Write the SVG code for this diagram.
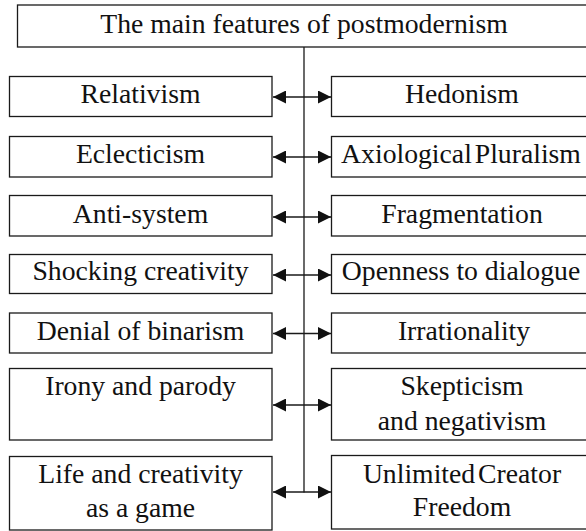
<svg xmlns="http://www.w3.org/2000/svg" width="586" height="531" viewBox="0 0 586 531">
<defs>
  <marker id="ah" markerUnits="userSpaceOnUse" markerWidth="13" markerHeight="13" viewBox="0 0 12 12" refX="12" refY="6" orient="auto-start-reverse">
    <path d="M0,0 L12,6 L0,12 Z" fill="#111"/>
  </marker>
</defs>
<rect width="586" height="531" fill="#fff"/>

<g id="connectors" stroke="#1a1a1a" stroke-width="1.3" fill="none">
  <line x1="304" y1="47" x2="304" y2="492.5"/>
  <g marker-start="url(#ah)" marker-end="url(#ah)">
    <line x1="273" y1="97" x2="331" y2="97"/>
    <line x1="273" y1="157" x2="331" y2="157"/>
    <line x1="273" y1="217" x2="331" y2="217"/>
    <line x1="273" y1="275" x2="331" y2="275"/>
    <line x1="273" y1="333.5" x2="331" y2="333.5"/>
    <line x1="273" y1="405" x2="331" y2="405"/>
    <line x1="273" y1="492" x2="331" y2="492"/>
  </g>
</g>

<g id="boxes" fill="#fff" stroke="#1a1a1a" stroke-width="1.3">
  <rect id="title-box" x="17.5" y="5" width="590" height="42"/>
  <rect id="relativism-box" x="9.5" y="76.5" width="262.5" height="40"/>
  <rect id="hedonism-box" x="331.5" y="76.5" width="270" height="40"/>
  <rect id="eclecticism-box" x="9.5" y="136.5" width="262.5" height="40.5"/>
  <rect id="axiological-box" x="331.5" y="136.5" width="270" height="40.5"/>
  <rect id="antisystem-box" x="9.5" y="195.5" width="262.5" height="40.5"/>
  <rect id="fragmentation-box" x="331.5" y="195.5" width="270" height="40.5"/>
  <rect id="shocking-box" x="9.5" y="254.5" width="262.5" height="39"/>
  <rect id="openness-box" x="331.5" y="254.5" width="270" height="39"/>
  <rect id="denial-box" x="9.5" y="313" width="262.5" height="40"/>
  <rect id="irrationality-box" x="331.5" y="313" width="270" height="40"/>
  <rect id="irony-box" x="9.5" y="368.5" width="262.5" height="71.5"/>
  <rect id="skepticism-box" x="331.5" y="368.5" width="270" height="71.5"/>
  <rect id="life-box" x="9.5" y="456.5" width="262.5" height="73.5"/>
  <rect id="unlimited-box" x="331.5" y="455.5" width="270" height="73.5"/>
</g>

<g id="labels" font-size="27.7" fill="#111" text-anchor="middle">
  <text id="title" x="304" y="32.5" style="font-family: 'Liberation Serif', serif">The main features of postmodernism</text>
  <text id="relativism" x="140.5" y="103" style="font-family: 'Liberation Serif', serif">Relativism</text>
  <text id="hedonism" x="462" y="103" style="font-family: 'Liberation Serif', serif">Hedonism</text>
  <text id="eclecticism" x="140.5" y="163" style="font-family: 'Liberation Serif', serif">Eclecticism</text>
  <text id="axiological" x="461" y="163" word-spacing="-4" style="font-family: 'Liberation Serif', serif">Axiological Pluralism</text>
  <text id="antisystem" x="140.5" y="222.5" style="font-family: 'Liberation Serif', serif">Anti-system</text>
  <text id="fragmentation" x="462" y="222.5" style="font-family: 'Liberation Serif', serif">Fragmentation</text>
  <text id="shocking" x="140.5" y="280" style="font-family: 'Liberation Serif', serif">Shocking creativity</text>
  <text id="openness" x="461" y="280" style="font-family: 'Liberation Serif', serif">Openness to dialogue</text>
  <text id="denial" x="140.5" y="339.5" style="font-family: 'Liberation Serif', serif">Denial of binarism</text>
  <text id="irrationality" x="464" y="339.5" style="font-family: 'Liberation Serif', serif">Irrationality</text>
  <text id="irony" x="140.5" y="395" style="font-family: 'Liberation Serif', serif">Irony and parody</text>
  <g id="skepticism">
    <text x="462" y="395" style="font-family: 'Liberation Serif', serif">Skepticism</text>
    <text x="462" y="430" style="font-family: 'Liberation Serif', serif">and negativism</text>
  </g>
  <g id="life">
    <text x="140.5" y="483" style="font-family: 'Liberation Serif', serif">Life and creativity</text>
    <text x="140.5" y="516.5" style="font-family: 'Liberation Serif', serif">as a game</text>
  </g>
  <g id="unlimited">
    <text x="462" y="482.5" word-spacing="-4" style="font-family: 'Liberation Serif', serif">Unlimited Creator</text>
    <text x="462" y="515.5" style="font-family: 'Liberation Serif', serif">Freedom</text>
  </g>
</g>
</svg>
